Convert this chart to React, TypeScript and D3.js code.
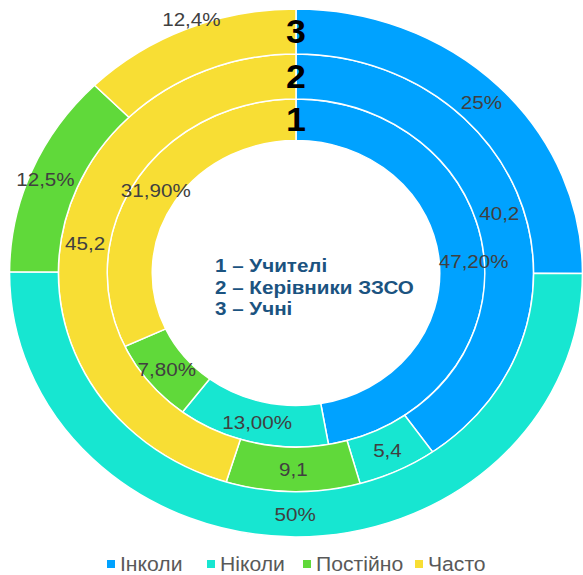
import * as d3 from 'd3';

const categories = ['Інколи', 'Ніколи', 'Постійно', 'Часто'];
const colors = ['#00A2FF', '#17E6D1', '#60D93A', '#F8DE34'];

// ring 1 – teachers, ring 2 – school heads, ring 3 – pupils
const teachers = [47.2, 13.0, 7.8, 31.9];
const teacherLabels = ['47,20%', '13,00%', '7,80%', '31,90%'];
const heads = [40.2, 5.4, 9.1, 45.2];
const headLabels = ['40,2', '5,4', '9,1', '45,2'];
const pupils = [25, 50, 12.5, 12.4];
const pupilLabels = ['25%', '50%', '12,5%', '12,4%'];

const centerLines = ['1 – Учителі', '2 – Керівники ЗЗСО', '3 – Учні'];

const W = 583;
const H = 575;
const cx = 296;
const cy = 273;
const sx = 1.085; // reference is stretched a little horizontally
const radii = [132.5, 174, 219, 264];

interface Ring {
  id: string;
  values: number[];
  labels: string[];
  r0: number;
  r1: number;
  nudge?: Record<number, [number, number]>;
}

const rings: Ring[] = [
  { id: '1', values: teachers, labels: teacherLabels, r0: radii[0], r1: radii[1], nudge: { 0: [12, 2] } },
  { id: '2', values: heads, labels: headLabels, r0: radii[1], r1: radii[2] },
  { id: '3', values: pupils, labels: pupilLabels, r0: radii[2], r1: radii[3], nudge: { 3: [-5, -30], 2: [-9, 0] } },
];

const legendX = [107, 207, 303, 415];

// text stretched like the rest of the picture
function SText({ x, y, children, ...rest }: { x: number; y: number; children: React.ReactNode; [k: string]: unknown }) {
  return (
    <text transform={`translate(${x},${y}) scale(${sx},1)`} {...rest}>
      {children}
    </text>
  );
}

export default function App() {
  const pie = d3
    .pie<number>()
    .sort(null)
    .value((d) => d);

  return (
    <svg
      width={W}
      height={H}
      viewBox={`0 0 ${W} ${H}`}
      style={{ position: 'absolute', left: 0, top: 0, background: '#fff' }}
      fontFamily="'Liberation Sans', Arial, sans-serif"
    >
      <g transform={`translate(${cx},${cy}) scale(${sx},1)`}>
        {rings.map((ring) => {
          const arc = d3.arc<d3.PieArcDatum<number>>().innerRadius(ring.r0).outerRadius(ring.r1);
          return pie(ring.values).map((a, i) => (
            <path
              key={`${ring.id}-${i}`}
              d={arc(a) ?? ''}
              fill={colors[i]}
              stroke="#fff"
              strokeWidth={1.5}
              vectorEffect="non-scaling-stroke"
            />
          ));
        })}
      </g>

      {rings.map((ring) => {
        const arc = d3.arc<d3.PieArcDatum<number>>().innerRadius(ring.r0).outerRadius(ring.r1);
        return pie(ring.values).map((a, i) => {
          const [x, y] = arc.centroid(a);
          const [dx, dy] = ring.nudge?.[i] ?? [0, 0];
          return (
            <SText
              key={`l-${ring.id}-${i}`}
              x={cx + x * sx + dx}
              y={cy + y + dy}
              textAnchor="middle"
              dominantBaseline="central"
              fontSize={19}
              fill="#404040"
            >
              {ring.labels[i]}
            </SText>
          );
        });
      })}

      {rings.map((ring) => (
        <SText
          key={`n-${ring.id}`}
          x={cx}
          y={cy - (ring.r0 + ring.r1) / 2}
          textAnchor="middle"
          dominantBaseline="central"
          fontSize={33}
          fontWeight="bold"
          fill="#000"
        >
          {ring.id}
        </SText>
      ))}

      {centerLines.map((t, i) => (
        <SText key={t} x={215} y={272 + i * 21.5} fontSize={19} fontWeight="bold" fill="#1B5380">
          {t}
        </SText>
      ))}

      {categories.map((c, i) => (
        <g key={c}>
          <rect x={legendX[i]} y={560} width={8} height={8} fill={colors[i]} />
          <SText x={legendX[i] + 13} y={571} fontSize={19.5} fill="#595959">
            {c}
          </SText>
        </g>
      ))}
    </svg>
  );
}
